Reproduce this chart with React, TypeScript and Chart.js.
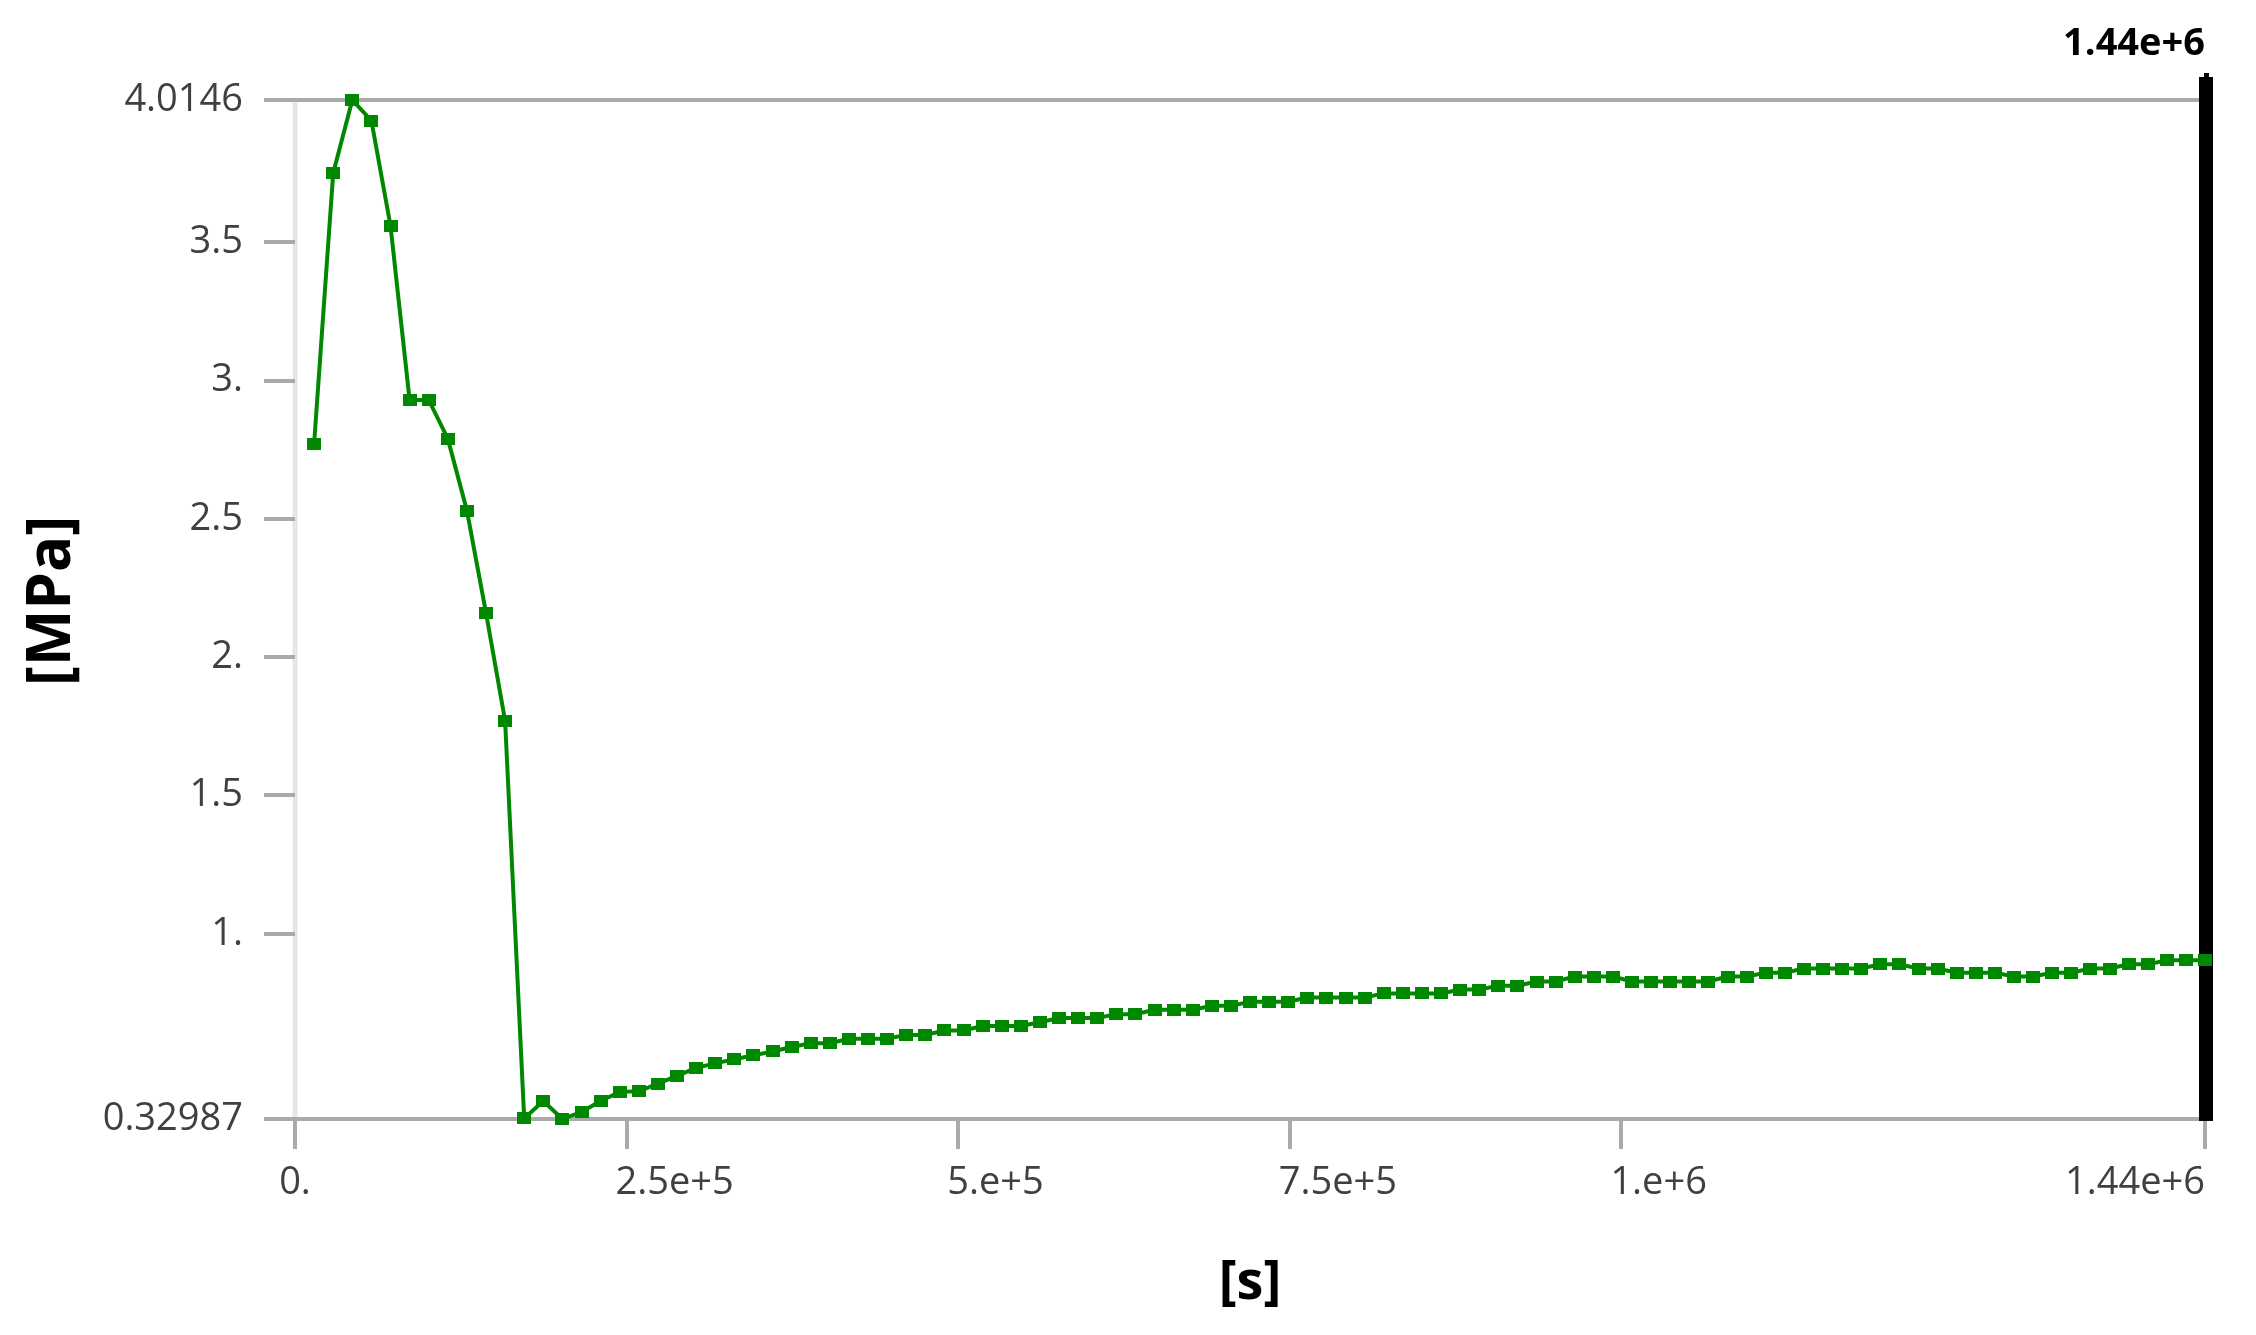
import React, { useEffect, useRef } from "react";
import { Chart, registerables } from "chart.js";

Chart.register(...registerables);

// ---------- data ----------
const timeSeconds = [
  14400, 28800, 43200, 57600, 72000, 86400, 100800, 115200, 129600, 144000,
  158400, 172800, 187200, 201600, 216000, 230400, 244800, 259200, 273600, 288000,
  302400, 316800, 331200, 345600, 360000, 374400, 388800, 403200, 417600, 432000,
  446400, 460800, 475200, 489600, 504000, 518400, 532800, 547200, 561600, 576000,
  590400, 604800, 619200, 633600, 648000, 662400, 676800, 691200, 705600, 720000,
  734400, 748800, 763200, 777600, 792000, 806400, 820800, 835200, 849600, 864000,
  878400, 892800, 907200, 921600, 936000, 950400, 964800, 979200, 993600, 1008000,
  1022400, 1036800, 1051200, 1065600, 1080000, 1094400, 1108800, 1123200, 1137600, 1152000,
  1166400, 1180800, 1195200, 1209600, 1224000, 1238400, 1252800, 1267200, 1281600, 1296000,
  1310400, 1324800, 1339200, 1353600, 1368000, 1382400, 1396800, 1411200, 1425600, 1440000,
];

const stressMPa = [
  2.77, 3.75, 4.0146, 3.94, 3.56, 2.93, 2.93, 2.79, 2.53, 2.16,
  1.77, 0.332, 0.395, 0.32987, 0.355, 0.395, 0.428, 0.43, 0.458, 0.486,
  0.515, 0.531, 0.546, 0.56, 0.574, 0.59, 0.604, 0.604, 0.62, 0.62,
  0.62, 0.634, 0.634, 0.65, 0.65, 0.666, 0.666, 0.666, 0.68, 0.695,
  0.695, 0.695, 0.709, 0.709, 0.725, 0.725, 0.725, 0.739, 0.739, 0.754,
  0.754, 0.754, 0.769, 0.769, 0.769, 0.769, 0.784, 0.784, 0.784, 0.784,
  0.798, 0.798, 0.812, 0.812, 0.827, 0.827, 0.845, 0.845, 0.845, 0.827,
  0.827, 0.827, 0.827, 0.827, 0.845, 0.845, 0.859, 0.859, 0.874, 0.874,
  0.874, 0.874, 0.889, 0.889, 0.874, 0.874, 0.859, 0.859, 0.859, 0.845,
  0.845, 0.859, 0.859, 0.874, 0.874, 0.889, 0.889, 0.904, 0.904, 0.904,
];

const xTickValues = [0, 250000, 500000, 750000, 1000000, 1440000];
const xTickLabels = ["0.", "2.5e+5", "5.e+5", "7.5e+5", "1.e+6", "1.44e+6"];
const yTickValues = [0.32987, 1, 1.5, 2, 2.5, 3, 3.5, 4.0146];
const yTickLabels = ["0.32987", "1.", "1.5", "2.", "2.5", "3.", "3.5", "4.0146"];

const xMin = 0;
const xMax = 1440000;
const yMin = 0.32987;
const yMax = 4.0146;

const cursorTime = 1440000;
const cursorLabel = "1.44e+6";
const xTitle = "[s]";
const yTitle = "[MPa]";

// ---------- layout / style ----------
const W = 2240;
const H = 1319;
const AREA_LEFT = 287;
const AREA_RIGHT = 2197;
const AREA_TOP = 92;
const AREA_BOTTOM = 1111;

const GREEN = "#008800";
const GRID = "#aaaaaa";
const AXIS_LIGHT = "#e6e6e6";
const TICK_TEXT = "#404040";
const FONT = "'Open Sans', 'Noto Sans', sans-serif";

export default function App() {
  const canvasRef = useRef<HTMLCanvasElement | null>(null);

  useEffect(() => {
    const canvas = canvasRef.current;
    if (!canvas) return;

    const marker = document.createElement("canvas");
    marker.width = 14;
    marker.height = 12;
    const mctx = marker.getContext("2d");
    if (mctx) {
      mctx.fillStyle = GREEN;
      mctx.fillRect(0, 0, 14, 12);
    }

    const overlay = {
      id: "overlay",
      beforeDraw(chart: any) {
        const { ctx, chartArea } = chart;
        ctx.save();
        ctx.fillStyle = AXIS_LIGHT;
        ctx.fillRect(chartArea.left - 2.5, chartArea.top, 5, chartArea.bottom - chartArea.top);
        ctx.restore();
      },
      beforeDatasetsDraw(chart: any) {
        const { ctx, chartArea } = chart;
        const x = chart.scales.x.getPixelForValue(cursorTime);
        ctx.save();
        ctx.fillStyle = "#000000";
        ctx.fillRect(x - 6, 69, 14, chartArea.bottom + 2 - 69);
        ctx.fillRect(x - 1, 65, 5, 4);
        ctx.restore();
      },
      afterDraw(chart: any) {
        const { ctx, chartArea } = chart;
        const xs = chart.scales.x;
        ctx.save();
        // x tick labels
        ctx.font = `38px ${FONT}`;
        ctx.fillStyle = TICK_TEXT;
        ctx.textBaseline = "middle";
        const labelY = 1175;
        xTickValues.forEach((v, i) => {
          const px = xs.getPixelForValue(v);
          if (i === 0) {
            ctx.textAlign = "center";
            ctx.fillText(xTickLabels[i], px, labelY);
          } else if (i === xTickValues.length - 1) {
            ctx.textAlign = "right";
            ctx.fillText(xTickLabels[i], px, labelY);
          } else {
            ctx.textAlign = "left";
            ctx.fillText(xTickLabels[i], px - 11, labelY);
          }
        });
        // cursor label
        ctx.font = `bold 38px ${FONT}`;
        ctx.fillStyle = "#000000";
        ctx.textAlign = "right";
        ctx.fillText(cursorLabel, xs.getPixelForValue(cursorTime), 36);
        // x title
        ctx.font = `bold 54px ${FONT}`;
        ctx.textAlign = "center";
        ctx.fillText(xTitle, (chartArea.left + chartArea.right) / 2, 1276);
        // y title
        ctx.translate(45, 593);
        ctx.rotate(-Math.PI / 2);
        ctx.font = `bold 60px ${FONT}`;
        ctx.textAlign = "center";
        ctx.fillText(yTitle, 0, 0);
        ctx.restore();
      },
    };

    const data = timeSeconds.map((t, i) => ({ x: t, y: stressMPa[i] }));

    const chart = new Chart(canvas, {
      type: "line",
      data: {
        datasets: [
          {
            data,
            borderColor: GREEN,
            backgroundColor: GREEN,
            borderWidth: 4,
            pointStyle: marker as any,
            pointRadius: 7,
            pointHoverRadius: 7,
            tension: 0,
            fill: false,
            clip: false as any,
          },
        ],
      },
      options: {
        animation: false,
        responsive: false,
        devicePixelRatio: 1,
        layout: {
          padding: { top: AREA_TOP, right: W - AREA_RIGHT, bottom: 0, left: 0 },
        },
        plugins: {
          legend: { display: false },
          tooltip: { enabled: false },
          title: { display: false },
        },
        scales: {
          x: {
            type: "linear",
            min: xMin,
            max: xMax,
            afterBuildTicks: (scale: any) => {
              scale.ticks = xTickValues.map((v) => ({ value: v }));
            },
            afterFit: (scale: any) => {
              scale.height = H - AREA_BOTTOM;
            },
            ticks: { display: false },
            grid: {
              drawOnChartArea: false,
              drawTicks: true,
              tickLength: 30,
              tickWidth: 4,
              tickColor: GRID,
              color: GRID,
              lineWidth: 4,
            },
            border: { display: false },
          },
          y: {
            type: "linear",
            min: yMin,
            max: yMax,
            afterBuildTicks: (scale: any) => {
              scale.ticks = yTickValues.map((v) => ({ value: v }));
            },
            afterFit: (scale: any) => {
              scale.width = AREA_LEFT;
            },
            ticks: {
              padding: 21,
              color: TICK_TEXT,
              font: { family: FONT, size: 38 },
              callback: (_v: any, i: number) => yTickLabels[i],
            },
            grid: {
              drawOnChartArea: true,
              drawTicks: true,
              tickLength: 31,
              tickWidth: 4,
              tickColor: GRID,
              lineWidth: 4,
              color: (c: any) =>
                c.index === 0 || c.index === yTickValues.length - 1 ? GRID : "rgba(0,0,0,0)",
            },
            border: { display: false },
          },
        },
      },
      plugins: [overlay],
    });

    return () => {
      chart.destroy();
    };
  }, []);

  return (
    <div style={{ width: W, height: H }}>
      <canvas ref={canvasRef} width={W} height={H} style={{ display: "block" }} />
    </div>
  );
}
